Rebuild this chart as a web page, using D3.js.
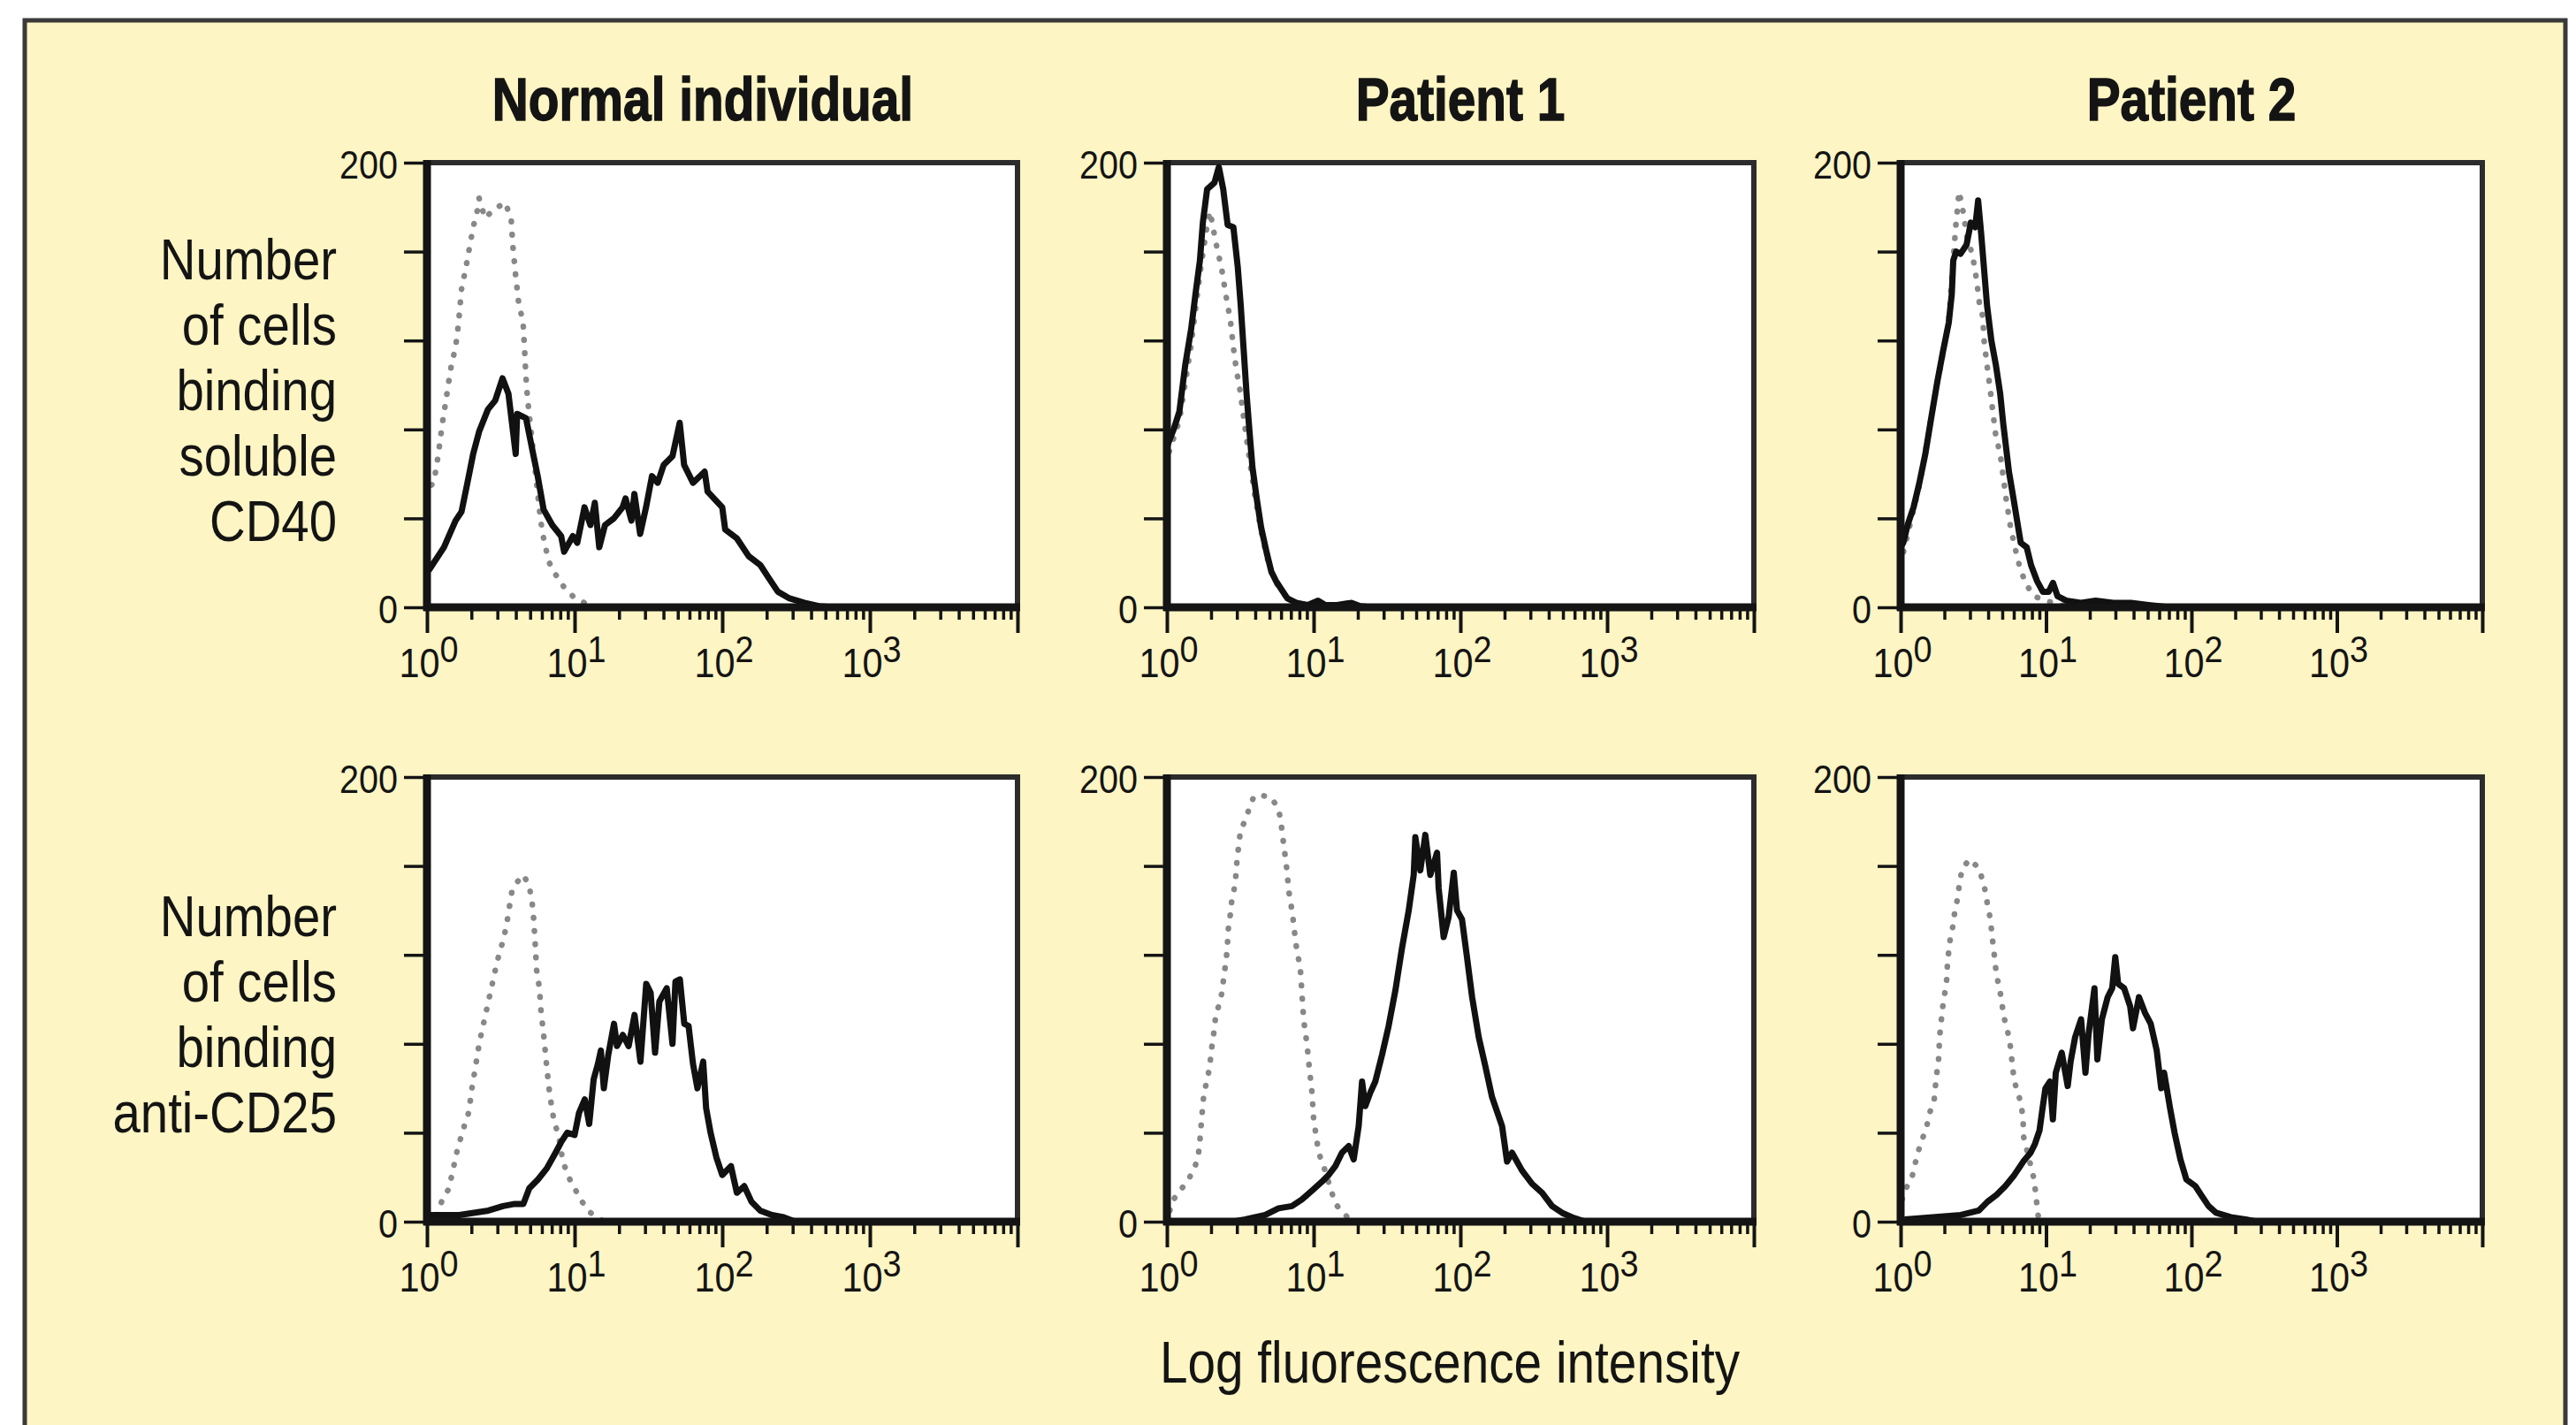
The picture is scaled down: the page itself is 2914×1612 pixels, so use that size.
<!DOCTYPE html>
<html>
<head>
<meta charset="utf-8">
<script src="https://cdn.jsdelivr.net/npm/d3@7"></script>
<style>
  body { margin: 0; background: #fff; }
</style>
</head>
<body>
<svg id="chart" width="2914" height="1612"></svg>
<script>

// ---- data: [log10 fluorescence, number of cells] ----
var columns = ["Normal individual", "Patient 1", "Patient 2"];
var rowLabels = [
  ["Number", "of cells", "binding", "soluble", "CD40"],
  ["Number", "of cells", "binding", "anti-CD25"]
];
var xTitle = "Log fluorescence intensity";
var yTicks = [0, 40, 80, 120, 160, 200];
var yTickLabels = [0, 200];
var xDecades = [0, 1, 2, 3];

// soluble CD40 binding (solid) and control (dotted)
var cd40Normal = [[0,16],[0.016,17],[0.115,27],[0.194,39],[0.234,43],[0.274,56],[0.313,69],[0.353,79],[0.413,89],[0.462,93],[0.512,103],[0.552,96],[0.601,69],[0.611,87],[0.671,85],[0.710,72],[0.750,59],[0.790,44],[0.849,37],[0.909,32],[0.929,25],[0.988,32],[1.018,29],[1.067,45],[1.107,37],[1.137,47],[1.167,27],[1.206,37],[1.266,40],[1.325,45],[1.345,49],[1.385,39],[1.405,51],[1.444,33],[1.484,45],[1.524,59],[1.563,56],[1.603,64],[1.663,68],[1.712,83],[1.742,64],[1.802,56],[1.881,61],[1.901,52],[2.0,45],[2.020,35],[2.099,31],[2.179,23],[2.258,19],[2.317,13],[2.377,7],[2.456,4],[2.556,2],[2.655,0.5],[2.75,0]];
var cd40NormalCtrl = [[0.03,55],[0.046,56],[0.075,68],[0.105,83],[0.135,96],[0.165,109],[0.194,117],[0.214,128],[0.234,143],[0.264,153],[0.294,164],[0.313,171],[0.343,179],[0.353,184],[0.393,175],[0.452,179],[0.532,182],[0.571,174],[0.581,163],[0.601,149],[0.621,137],[0.651,128],[0.661,116],[0.671,103],[0.681,94],[0.770,39],[0.790,31],[0.810,25],[0.829,20],[0.869,15],[0.929,9],[0.988,5],[1.067,2],[1.147,0]];
var cd40Patient1 = [[0,72],[0.016,75],[0.046,80],[0.085,88],[0.125,109],[0.165,125],[0.195,141],[0.225,156],[0.245,173],[0.274,188],[0.324,191],[0.354,198],[0.384,188],[0.414,172],[0.453,171],[0.483,153],[0.503,136],[0.523,116],[0.543,96],[0.563,79],[0.583,63],[0.612,49],[0.642,36],[0.682,24],[0.712,16],[0.742,12],[0.781,8],[0.821,4],[0.881,2],[0.960,1],[1.030,3],[1.080,1],[1.159,1],[1.258,2],[1.318,0.5],[1.4,0]];
var cd40Patient1Ctrl = [[0.016,70],[0.085,84],[0.165,118],[0.225,150],[0.274,172],[0.294,178],[0.334,164],[0.374,152],[0.403,140],[0.433,129],[0.453,117],[0.473,107],[0.50,97],[0.53,82],[0.56,68],[0.60,50],[0.64,35],[0.68,23],[0.72,14],[0.78,7],[0.85,3],[0.95,0]];
var cd40Patient2 = [[0,27],[0.018,29],[0.048,37],[0.089,45],[0.129,56],[0.170,69],[0.210,85],[0.251,101],[0.291,115],[0.331,128],[0.352,141],[0.362,156],[0.382,160],[0.412,159],[0.453,163],[0.483,173],[0.513,171],[0.533,183],[0.554,168],[0.574,152],[0.594,136],[0.624,120],[0.655,109],[0.685,96],[0.705,83],[0.725,72],[0.745,61],[0.776,49],[0.806,37],[0.826,29],[0.867,27],[0.897,19],[0.937,12],[0.978,7],[1.018,7],[1.048,11],[1.079,5],[1.139,3],[1.240,2],[1.341,3],[1.463,2],[1.584,2],[1.705,1],[1.85,0]];
var cd40Patient2Ctrl = [[0.02,25],[0.13,55],[0.25,100],[0.33,128],[0.36,155],[0.38,172],[0.402,187],[0.43,178],[0.46,165],[0.493,159],[0.523,147],[0.543,136],[0.564,131],[0.574,120],[0.594,109],[0.614,99],[0.634,88],[0.655,77],[0.685,69],[0.705,59],[0.725,49],[0.756,36],[0.786,27],[0.816,19],[0.857,11],[0.917,5],[0.998,3],[1.10,1],[1.2,0]];

// anti-CD25 binding (solid) and control (dotted)
var cd25Normal = [[0,2],[0.010,3],[0.218,3],[0.416,5],[0.515,7],[0.594,8],[0.653,8],[0.693,15],[0.752,19],[0.812,24],[0.871,31],[0.911,36],[0.950,40],[1.0,39],[1.030,49],[1.069,55],[1.099,44],[1.129,64],[1.158,71],[1.178,77],[1.198,60],[1.228,75],[1.267,89],[1.287,79],[1.327,84],[1.366,79],[1.406,93],[1.446,72],[1.485,107],[1.515,103],[1.545,76],[1.574,99],[1.624,105],[1.663,80],[1.683,108],[1.713,109],[1.743,89],[1.772,88],[1.802,71],[1.832,60],[1.871,72],[1.891,51],[1.921,40],[1.960,29],[2.0,21],[2.059,25],[2.099,13],[2.149,16],[2.198,9],[2.257,5],[2.337,3],[2.416,2],[2.495,0]];
var cd25NormalCtrl = [[0.07,3],[0.099,9],[0.149,15],[0.188,27],[0.208,33],[0.257,44],[0.287,50],[0.297,57],[0.327,69],[0.356,81],[0.396,93],[0.436,105],[0.475,117],[0.505,124],[0.525,129],[0.545,136],[0.574,148],[0.614,153],[0.653,156],[0.693,151],[0.713,143],[0.723,136],[0.733,125],[0.743,113],[0.762,105],[0.772,95],[0.792,83],[0.812,69],[0.832,57],[0.861,45],[0.891,39],[0.921,27],[0.960,20],[1.0,15],[1.050,9],[1.109,4],[1.149,2],[1.2,0]];
var cd25Patient1 = [[0.45,0],[0.534,1],[0.670,3],[0.761,6],[0.852,7],[0.920,10],[0.989,14],[1.057,18],[1.102,21],[1.148,25],[1.193,31],[1.239,34],[1.273,28],[1.307,43],[1.330,63],[1.352,52],[1.386,58],[1.420,63],[1.466,75],[1.511,88],[1.557,104],[1.602,123],[1.648,140],[1.682,156],[1.693,173],[1.727,158],[1.761,174],[1.795,156],[1.841,166],[1.852,150],[1.886,128],[1.920,137],[1.955,157],[1.977,140],[2.011,136],[2.045,119],[2.080,101],[2.125,83],[2.170,70],[2.216,56],[2.284,43],[2.318,27],[2.352,31],[2.420,23],[2.489,17],[2.557,13],[2.625,7],[2.693,4],[2.761,2],[2.852,0]];
var cd25Patient1Ctrl = [[0.02,5],[0.045,10],[0.102,15],[0.148,19],[0.193,25],[0.216,31],[0.227,38],[0.239,48],[0.250,56],[0.261,60],[0.284,67],[0.295,72],[0.307,79],[0.318,84],[0.330,91],[0.352,97],[0.375,103],[0.386,109],[0.398,115],[0.409,121],[0.420,133],[0.432,138],[0.443,145],[0.466,152],[0.477,162],[0.489,169],[0.5,175],[0.534,181],[0.591,191],[0.625,192],[0.705,191],[0.75,187],[0.773,182],[0.784,176],[0.795,170],[0.807,164],[0.818,158],[0.830,149],[0.852,140],[0.864,134],[0.875,127],[0.886,122],[0.909,114],[0.920,103],[0.932,91],[0.943,85],[0.955,80],[0.966,72],[0.989,58],[1.0,46],[1.023,36],[1.034,31],[1.068,25],[1.148,8],[1.216,3],[1.261,0]];
var cd25Patient2 = [[0.027,1],[0.414,3],[0.537,5],[0.598,9],[0.659,12],[0.720,16],[0.782,21],[0.843,27],[0.894,31],[0.924,35],[0.955,41],[0.976,51],[0.996,60],[1.027,63],[1.047,46],[1.067,67],[1.108,76],[1.149,61],[1.169,72],[1.2,83],[1.241,91],[1.271,67],[1.292,84],[1.333,105],[1.353,73],[1.384,91],[1.424,101],[1.455,105],[1.476,119],[1.496,107],[1.537,105],[1.578,97],[1.598,87],[1.639,101],[1.680,94],[1.720,89],[1.761,77],[1.792,60],[1.812,67],[1.853,51],[1.884,40],[1.924,28],[1.965,19],[2.027,16],[2.067,12],[2.118,7],[2.169,4],[2.271,2],[2.373,1],[2.45,0]];
var cd25Patient2Ctrl = [[0.01,10],[0.037,15],[0.078,20],[0.118,31],[0.149,37],[0.180,43],[0.2,49],[0.231,55],[0.241,62],[0.251,68],[0.261,73],[0.266,80],[0.271,85],[0.282,92],[0.292,98],[0.307,104],[0.317,109],[0.322,116],[0.333,123],[0.343,128],[0.363,134],[0.373,140],[0.394,146],[0.404,152],[0.424,159],[0.476,163],[0.537,159],[0.567,153],[0.588,147],[0.598,142],[0.618,136],[0.628,129],[0.639,123],[0.649,117],[0.659,111],[0.680,105],[0.695,99],[0.710,92],[0.731,87],[0.751,81],[0.761,75],[0.771,69],[0.782,63],[0.812,57],[0.833,51],[0.843,45],[0.843,39],[0.914,20],[0.925,15],[0.935,9],[0.945,3],[0.955,0]];

var panels = [
  [[cd40Normal, cd40NormalCtrl], [cd40Patient1, cd40Patient1Ctrl], [cd40Patient2, cd40Patient2Ctrl]],
  [[cd25Normal, cd25NormalCtrl], [cd25Patient1, cd25Patient1Ctrl], [cd25Patient2, cd25Patient2Ctrl]]
];

// ---- layout ----
var svg = d3.select("#chart");
var font = "'Liberation Sans', Arial, Helvetica, sans-serif";
var ink = "#141414";

var colLeft = [483, 1320, 2150],
    colWidth = [668, 664, 658],
    titleShift = [-22, 0, 0],
    rowTop = [184, 879],
    plotH = 503,
    labelFirst = [132, 180];

// condensed look: squeeze glyphs horizontally
function label(parent, x, y, str, size, opts) {
  opts = opts || {};
  var t = parent.append("text")
    .attr("transform", "translate(" + x + "," + y + ") scale(" + (opts.sx || 0.86) + ",1)")
    .attr("text-anchor", opts.anchor || "middle")
    .style("font-family", font)
    .style("font-weight", opts.bold ? "bold" : "normal")
    .style("font-size", size + "px")
    .style("fill", ink)
    .text(str);
  if (opts.bold) t.style("stroke", ink).style("stroke-width", 1.5);
  return t;
}

svg.append("rect")
  .attr("x", 28).attr("y", 23)
  .attr("width", 2874).attr("height", 1700)
  .attr("fill", "#fdf5c3")
  .attr("stroke", "#3a3a3a")
  .attr("stroke-width", 5);

var minorTicks = [];
xDecades.forEach(function(k){
  for (var m = 2; m <= 9; m++) minorTicks.push(m * Math.pow(10, k));
});
var majorTicks = xDecades.map(k => Math.pow(10, k)).concat([1e4]);

columns.forEach(function(name, c){
  label(svg, colLeft[c] + colWidth[c] / 2 + titleShift[c], 136, name, 68, {bold: true, sx: 0.835});
});

rowLabels.forEach(function(lines, r){
  lines.forEach(function(s, i){
    label(svg, 381, rowTop[r] + labelFirst[r] + i * 74, s, 64, {anchor: "end", sx: 0.88});
  });
});

panels.forEach(function(row, r){
  row.forEach(function(pair, c){
    var g = svg.append("g")
      .attr("transform", "translate(" + colLeft[c] + "," + rowTop[r] + ")");

    var x = d3.scaleLog().domain([1, 1e4]).range([0, colWidth[c]]);
    var y = d3.scaleLinear().domain([0, 200]).range([plotH, 0]);

    g.append("rect")
      .attr("width", colWidth[c]).attr("height", plotH)
      .attr("fill", "#fff")
      .attr("stroke", "#2c2c2c")
      .attr("stroke-width", 6);

    var line = d3.line()
      .x(d => x(Math.pow(10, d[0])))
      .y(d => y(d[1]));

    // control (dotted grey)
    g.append("path")
      .datum(pair[1])
      .attr("d", line)
      .attr("fill", "none")
      .attr("stroke", "#888")
      .attr("stroke-width", 6.5)
      .attr("stroke-linecap", "round")
      .attr("stroke-dasharray", "0.5 14.5");

    // binding (solid black)
    g.append("path")
      .datum(pair[0])
      .attr("d", line)
      .attr("fill", "none")
      .attr("stroke", "#111")
      .attr("stroke-width", 7)
      .attr("stroke-linejoin", "round");

    // y axis ticks
    var ya = g.append("g")
      .call(d3.axisLeft(y).tickValues(yTicks).tickSize(26).tickFormat(""));
    ya.select(".domain").remove();
    ya.selectAll("line").attr("stroke", ink).attr("stroke-width", 3.5);
    yTickLabels.forEach(function(v){
      label(g, -33, y(v) + 18, v, 44, {anchor: "end", sx: 0.9});
    });

    // x axis: minor and major ticks
    var xm = g.append("g")
      .attr("transform", "translate(0," + plotH + ")")
      .call(d3.axisBottom(x).tickValues(minorTicks).tickSize(14).tickFormat(""));
    xm.select(".domain").remove();
    xm.selectAll("line").attr("stroke", ink).attr("stroke-width", 3.5);

    var xM = g.append("g")
      .attr("transform", "translate(0," + plotH + ")")
      .call(d3.axisBottom(x).tickValues(majorTicks).tickSize(29).tickFormat(""));
    xM.select(".domain").remove();
    xM.selectAll("line").attr("stroke", ink).attr("stroke-width", 4);

    // thick left and bottom axis lines
    g.append("line")
      .attr("x1", 0).attr("x2", 0).attr("y1", -3).attr("y2", plotH + 4)
      .attr("stroke", ink).attr("stroke-width", 9);
    g.append("line")
      .attr("x1", -4).attr("x2", colWidth[c] + 3).attr("y1", plotH).attr("y2", plotH)
      .attr("stroke", ink).attr("stroke-width", 9);

    // decade labels 10^n
    xDecades.forEach(function(k){
      var t = label(g, x(Math.pow(10, k)) + 2, plotH + 79, "", 46, {sx: 0.9});
      t.append("tspan").text("10");
      t.append("tspan")
        .attr("dy", -17)
        .style("font-size", "42px")
        .text(k);
    });
  });
});

label(svg, 1640, 1564, xTitle, 66, {sx: 0.86});

</script>
</body>
</html>
